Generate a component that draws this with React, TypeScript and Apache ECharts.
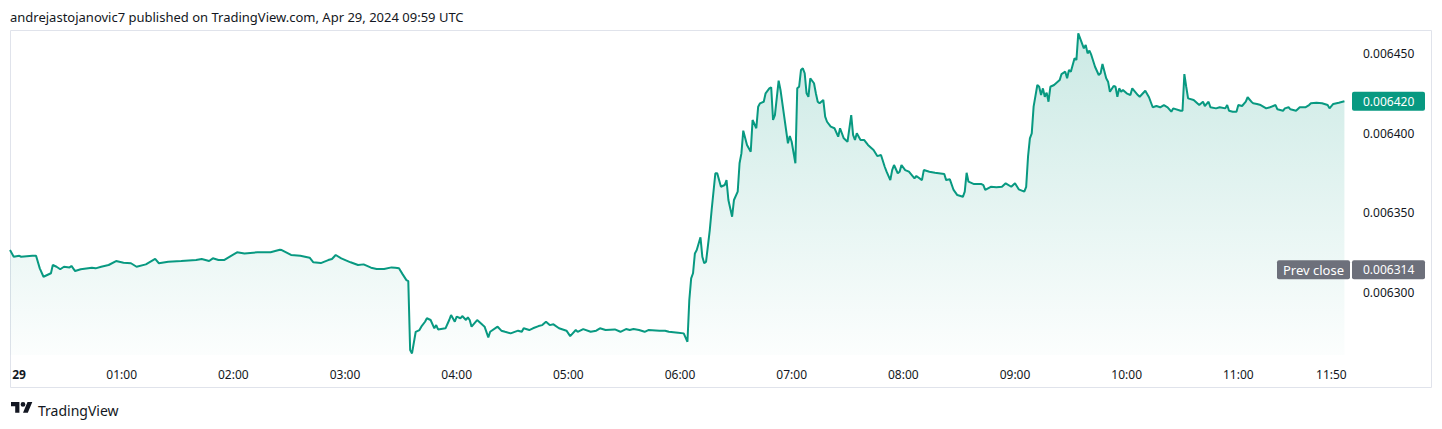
import React, { useEffect, useRef } from "react";
import * as echarts from "echarts";

const TITLE = "andrejastojanovic7 published on TradingView.com, Apr 29, 2024 09:59 UTC";
const BRAND = "TradingView";
const PREV_LABEL = "Prev close";
const DAY_LABEL = "29";

// minutes elapsed since 00:00 UTC, Apr 29 2024
const minutes = [
  0, 2, 5, 6, 12, 14, 16, 18, 22, 23, 25, 27, 29, 32, 33, 35, 38, 44, 46, 49,
  53, 57, 61, 65, 68, 73, 78, 80, 85, 92, 100, 103, 107, 109, 112, 115, 122, 126, 133, 140,
  145, 146, 151, 156, 161, 163, 167, 171, 173, 175, 178, 183, 187, 190, 194, 197, 201, 205, 207, 209,
  211, 213, 214, 215, 216, 218, 220, 221, 223, 224, 226, 228, 229, 230, 234, 236, 237, 239, 240, 242,
  243, 245, 246, 247, 248, 251, 254, 255, 257, 258, 262, 264, 266, 269, 273, 275, 276, 279, 281, 284,
  286, 288, 290, 292, 295, 299, 301, 304, 305, 308, 312, 315, 317, 320, 325, 328, 331, 333, 335, 338,
  341, 343, 349, 352, 354, 359, 362, 364, 365, 366, 367, 368, 369, 371, 372, 373, 374, 376, 377, 379,
  380, 382, 384, 385, 386, 388, 389, 391, 392, 393, 394, 396, 398, 399, 401, 402, 403, 405, 406, 408,
  409, 410, 411, 413, 414, 416, 417, 418, 419, 420, 422, 423, 424, 425, 426, 427, 428, 429, 430, 432,
  433, 434, 435, 437, 438, 439, 441, 443, 445, 446, 448, 450, 452, 453, 454, 455, 457, 459, 461, 464,
  466, 468, 470, 471, 473, 474, 475, 477, 478, 479, 481, 483, 486, 487, 490, 491, 494, 497, 502, 503,
  505, 507, 509, 512, 513, 514, 515, 518, 522, 523, 524, 527, 530, 533, 535, 538, 540, 542, 545, 546,
  547, 548, 549, 550, 552, 553, 554, 555, 556, 557, 558, 559, 561, 564, 565, 567, 568, 569, 570, 572,
  573, 574, 576, 577, 578, 579, 580, 581, 583, 585, 586, 587, 589, 590, 591, 593, 594, 595, 596, 597,
  598, 600, 602, 603, 606, 607, 610, 612, 614, 616, 618, 620, 622, 624, 625, 629, 630, 631, 632, 633,
  636, 639, 641, 642, 644, 645, 648, 650, 653, 654, 655, 657, 659, 660, 662, 664, 665, 667, 668, 670,
  672, 675, 677, 680, 681, 684, 685, 687, 688, 691, 693, 696, 698, 699, 702, 705, 708, 709, 711, 714,
  717,
];

const prices = [
  0.0063264, 0.0063222, 0.0063228, 0.0063222, 0.0063228, 0.0063228, 0.0063149, 0.0063096, 0.0063118, 0.006317,
  0.0063159, 0.0063143, 0.0063159, 0.0063155, 0.0063164, 0.0063132, 0.0063143, 0.0063153, 0.0063149, 0.0063159,
  0.006317, 0.0063195, 0.0063184, 0.0063181, 0.0063159, 0.0063174, 0.0063208, 0.0063181, 0.0063191, 0.0063195,
  0.0063201, 0.0063208, 0.0063195, 0.0063212, 0.0063201, 0.0063201, 0.006325, 0.0063243, 0.006325, 0.006325,
  0.0063266, 0.0063264, 0.0063233, 0.0063228, 0.0063216, 0.0063187, 0.0063182, 0.0063201, 0.0063208, 0.0063233,
  0.0063212, 0.0063187, 0.006317, 0.0063174, 0.0063153, 0.0063145, 0.0063145, 0.0063155, 0.0063153, 0.0063149,
  0.0063111, 0.0063075, 0.0063069, 0.0062635, 0.0062614, 0.006275, 0.0062761, 0.0062782, 0.0062813, 0.0062835,
  0.0062824, 0.0062772, 0.0062792, 0.0062765, 0.0062772, 0.0062824, 0.0062855, 0.0062813, 0.0062845, 0.0062835,
  0.0062849, 0.0062824, 0.0062841, 0.0062824, 0.0062782, 0.0062824, 0.0062792, 0.0062782, 0.0062715, 0.006275,
  0.0062782, 0.0062757, 0.006275, 0.006274, 0.0062757, 0.006275, 0.0062772, 0.0062761, 0.0062772, 0.0062786,
  0.0062792, 0.0062813, 0.0062792, 0.0062797, 0.0062772, 0.0062757, 0.0062723, 0.0062761, 0.006275, 0.0062767,
  0.006275, 0.0062757, 0.0062772, 0.0062761, 0.0062765, 0.006275, 0.0062767, 0.0062761, 0.0062767, 0.0062761,
  0.006275, 0.0062761, 0.0062757, 0.0062757, 0.006275, 0.0062744, 0.006274, 0.0062687, 0.006295, 0.0063086,
  0.0063118, 0.0063243, 0.0063264, 0.0063344, 0.0063222, 0.0063181, 0.0063191, 0.006339, 0.0063516, 0.0063747,
  0.0063747, 0.0063662, 0.0063673, 0.0063704, 0.0063579, 0.0063474, 0.0063579, 0.0063631, 0.006381, 0.0063872,
  0.0064015, 0.0063925, 0.0063882, 0.0064082, 0.006403, 0.0064166, 0.0064187, 0.0064197, 0.006425, 0.0064281,
  0.0064288, 0.0064082, 0.0064113, 0.0064329, 0.0064271, 0.0064103, 0.0064019, 0.0063935, 0.0063981, 0.0063945,
  0.006381, 0.0064281, 0.0064291, 0.0064396, 0.0064407, 0.0064376, 0.006425, 0.0064228, 0.0064344, 0.0064313,
  0.006425, 0.0064197, 0.0064187, 0.0064208, 0.0064103, 0.0064071, 0.006404, 0.006403, 0.0063977, 0.006403,
  0.0063967, 0.0063945, 0.0064113, 0.0063988, 0.0063956, 0.0063998, 0.0063956, 0.0063956, 0.0063925, 0.0063893,
  0.0063855, 0.0063862, 0.0063788, 0.0063757, 0.0063704, 0.0063767, 0.0063799, 0.0063747, 0.0063757, 0.0063799,
  0.0063767, 0.0063757, 0.0063715, 0.006373, 0.0063704, 0.0063767, 0.0063757, 0.006375, 0.0063742, 0.0063704,
  0.0063709, 0.0063642, 0.006361, 0.0063599, 0.0063631, 0.006375, 0.0063694, 0.0063679, 0.0063679, 0.0063673,
  0.0063642, 0.0063662, 0.0063659, 0.0063662, 0.0063684, 0.0063662, 0.0063684, 0.0063646, 0.0063631, 0.0063662,
  0.0063851, 0.0063967, 0.0063998, 0.0064166, 0.0064302, 0.0064291, 0.0064239, 0.0064281, 0.0064228, 0.0064254,
  0.0064197, 0.0064291, 0.0064302, 0.0064333, 0.0064371, 0.0064386, 0.0064344, 0.0064396, 0.0064386, 0.006447,
  0.0064459, 0.0064627, 0.0064564, 0.0064533, 0.0064554, 0.0064501, 0.0064518, 0.0064491, 0.0064417, 0.0064365,
  0.0064376, 0.0064434, 0.0064344, 0.0064323, 0.006426, 0.0064296, 0.0064291, 0.0064228, 0.0064281, 0.006426,
  0.0064271, 0.006425, 0.0064239, 0.0064281, 0.0064239, 0.0064228, 0.0064266, 0.0064225, 0.0064162, 0.006417,
  0.0064162, 0.0064176, 0.0064162, 0.0064134, 0.0064155, 0.006414, 0.006414, 0.0064371, 0.0064291, 0.0064218,
  0.0064208, 0.0064176, 0.0064197, 0.006417, 0.0064197, 0.0064162, 0.0064155, 0.0064162, 0.0064155, 0.0064176,
  0.006414, 0.0064134, 0.0064134, 0.0064176, 0.006417, 0.0064197, 0.0064225, 0.0064197, 0.0064187, 0.0064183,
  0.0064176, 0.0064155, 0.0064162, 0.0064176, 0.0064149, 0.006414, 0.0064155, 0.0064162, 0.0064149, 0.006414,
  0.0064162, 0.0064162, 0.0064176, 0.0064187, 0.0064191, 0.0064187, 0.0064176, 0.0064155, 0.0064183, 0.0064191,
  0.00642,
];

const PREV_CLOSE = 0.006314;
const xTickMinutes = [0, 60, 120, 180, 240, 300, 360, 420, 480, 540, 600, 660, 710];
const yTickValues = [0.0063, 0.00635, 0.0064, 0.00645];

const GREEN = "#089981";
const TAG_GRAY = "#6d707b";
const TEXT = "#131722";
const FONT = "'Noto Sans', sans-serif";
const LOGO_D =
  "M14 22H7V11H0V4h14v18zM28 22h-8l7.5-18h8L28 22zM24 8a4 4 0 1 1-8 0a4 4 0 1 1 8 0z";

function fmtMinute(m: number): string {
  if (m === 0) return "{day|" + DAY_LABEL + "}";
  const h = Math.floor(m / 60);
  const mm = m % 60;
  return String(h).padStart(2, "0") + ":" + String(mm).padStart(2, "0");
}

export default function App() {
  const ref = useRef<HTMLDivElement>(null);

  useEffect(() => {
    if (!ref.current) return;
    echarts.graphic.registerShape("tvlogo", echarts.graphic.extendPath(LOGO_D, {}) as any);
    const chart = echarts.init(ref.current, null, { renderer: "svg" });
    const data = minutes.map((m, i) => [m, prices[i]]);
    const last = prices[prices.length - 1];

    chart.setOption({
      animation: false,
      backgroundColor: "#ffffff",
      textStyle: { fontFamily: FONT },
      grid: { left: 10, top: 30, width: 1340, height: 325 },
      xAxis: {
        type: "value",
        min: 0,
        max: 720,
        axisLine: { show: false },
        axisTick: { show: false },
        splitLine: { show: false },
        axisLabel: {
          customValues: xTickMinutes,
          formatter: (v: number) => fmtMinute(v),
          margin: 13,
          color: TEXT,
          fontSize: 12,
          fontFamily: FONT,
          rich: {
            day: { fontWeight: "bold", fontSize: 12, color: TEXT, fontFamily: FONT, padding: [0, 0, 0, 18] },
          },
        },
      },
      yAxis: {
        type: "value",
        position: "right",
        min: 0.0062604,
        max: 0.0064648,
        axisLine: { show: false },
        axisTick: { show: false },
        splitLine: { show: false },
        axisLabel: {
          customValues: yTickValues,
          formatter: (v: number) => v.toFixed(6),
          margin: 13,
          color: TEXT,
          fontSize: 12,
          fontFamily: FONT,
        },
      },
      series: [
        {
          type: "line",
          data,
          symbol: "none",
          showSymbol: false,
          lineStyle: { color: GREEN, width: 2 },
          areaStyle: {
            origin: "start",
            color: new echarts.graphic.LinearGradient(0, 0, 0, 1, [
              { offset: 0, color: "rgba(8,153,129,0.3)" },
              { offset: 1, color: "rgba(8,153,129,0.02)" },
            ]),
          },
          markLine: {
            silent: true,
            symbol: "none",
            label: { show: false },
            lineStyle: { type: [1, 4], color: "#5d606b", width: 1 },
            data: [{ yAxis: PREV_CLOSE }],
          },
        },
      ],
    });

    const yLast = chart.convertToPixel({ yAxisIndex: 0 }, last) as number;
    const yPrev = chart.convertToPixel({ yAxisIndex: 0 }, PREV_CLOSE) as number;
    const tagH = 19;

    chart.setOption({
      graphic: [
        {
          type: "rect",
          shape: { x: 10.5, y: 30.5, width: 1421, height: 357 },
          style: { fill: "none", stroke: "#e0e3eb", lineWidth: 1 },
          silent: true,
          z: 0,
        },
        {
          type: "text",
          x: 10,
          y: 17,
          style: { text: TITLE, fill: TEXT, font: "13px " + FONT, textVerticalAlign: "middle" },
        },
        {
          type: "tvlogo",
          x: 11,
          y: 399.6,
          scaleX: 0.6,
          scaleY: 0.6,
          style: { fill: TEXT },
        },
        {
          type: "text",
          x: 38,
          y: 410,
          style: { text: BRAND, fill: TEXT, font: "14px " + FONT, textVerticalAlign: "middle" },
        },
        {
          type: "rect",
          shape: { x: 1352, y: yLast - tagH / 2, width: 73, height: tagH, r: 2 },
          style: { fill: GREEN },
          z: 10,
        },
        {
          type: "text",
          x: 1363,
          y: yLast,
          z: 11,
          style: { text: last.toFixed(6), fill: "#ffffff", font: "12px " + FONT, textVerticalAlign: "middle" },
        },
        {
          type: "rect",
          shape: { x: 1277, y: yPrev - tagH / 2, width: 73, height: tagH, r: 2 },
          style: { fill: TAG_GRAY },
          z: 10,
        },
        {
          type: "text",
          x: 1283,
          y: yPrev,
          z: 11,
          style: { text: PREV_LABEL, fill: "#ffffff", font: "13px " + FONT, textVerticalAlign: "middle" },
        },
        {
          type: "rect",
          shape: { x: 1352, y: yPrev - tagH / 2, width: 73, height: tagH, r: 2 },
          style: { fill: TAG_GRAY },
          z: 10,
        },
        {
          type: "text",
          x: 1363,
          y: yPrev,
          z: 11,
          style: { text: PREV_CLOSE.toFixed(6), fill: "#ffffff", font: "12px " + FONT, textVerticalAlign: "middle" },
        },
      ],
    });

    return () => chart.dispose();
  }, []);

  return (
    <div
      ref={ref}
      style={{ position: "absolute", left: 0, top: 0, width: 1442, height: 429 }}
    />
  );
}
